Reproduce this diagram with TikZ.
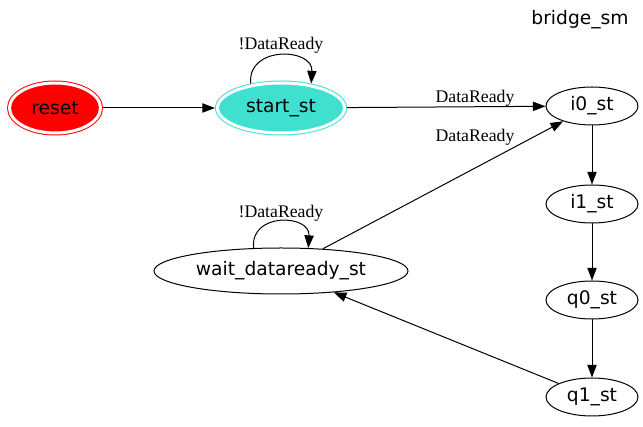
\documentclass[tikz,border=0pt]{standalone}
\usepackage{fontspec}
\setmainfont{Liberation Serif}
\newfontfamily\dvs{DejaVu Sans}
\usetikzlibrary{shapes.geometric,arrows.meta}
\definecolor{turq}{HTML}{40E0D0}
\begin{document}
\begin{tikzpicture}[x=0.75pt,y=-0.75pt,
  st/.style={ellipse, draw, line width=0.75pt, inner sep=0pt,
    minimum width=69pt, minimum height=28.5pt,
    font=\dvs\fontsize{14}{16}\selectfont},
  dbl/.style={double=white, double distance=2.25pt, outer sep=1.9pt},
  lbl/.style={font=\fontsize{13.3}{15}\selectfont, inner sep=0pt},
  arr/.style={-{Triangle[length=9.5pt,width=7pt]}, line width=0.75pt}]
\useasboundingbox (0,0) rectangle (643,427);
\fill[white] (0,0) rectangle (643,427);

\node[font=\dvs\fontsize{14}{16}\selectfont] (title) at (580,20) {bridge\_sm};

\node[st, dbl, draw=red, fill=red, minimum width=68.25pt, minimum height=37.5pt] (reset) at (55,108) {reset};
\node[st, dbl, draw=turq, fill=turq, minimum width=95.25pt, minimum height=37.5pt] (start) at (281,108) {start\_st};
\node[st] (i0) at (592,106) {i0\_st};
\node[st] (i1) at (592,204) {i1\_st};
\node[st] (q0) at (592,300) {q0\_st};
\node[st] (q1) at (592,397) {q1\_st};
\node[st, minimum width=190.5pt, minimum height=34.5pt] (wait) at (281,271) {wait\_dataready\_st};

\draw[arr] (reset) -- (start);
\draw[arr] (start) -- (i0);
\draw[arr] (start.141) .. controls +(-4,-38) and +(2,-36) .. (start.39);
\draw[arr] (wait.140) .. controls +(-4,-36) and +(2,-34) .. (wait.40);
\draw[arr] (wait) -- (i0);
\draw[arr] (i0) -- (i1);
\draw[arr] (i1) -- (q0);
\draw[arr] (q0) -- (q1);
\draw[arr] (q1) -- (wait);

\node[lbl] (l1) at (281,45) {!DataReady};
\node[lbl] (l2) at (475,98) {DataReady};
\node[lbl] (l3) at (475,137) {DataReady};
\node[lbl] (l4) at (281,213) {!DataReady};
\end{tikzpicture}
\end{document}
